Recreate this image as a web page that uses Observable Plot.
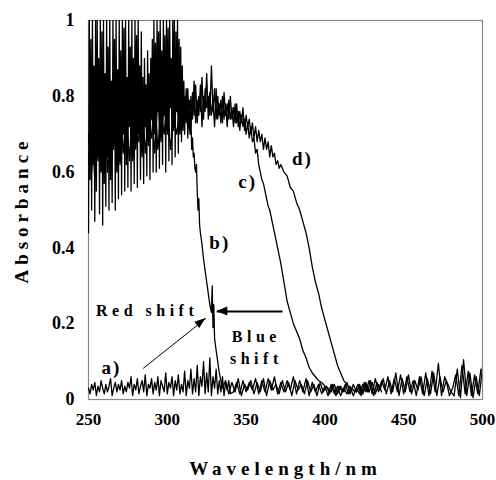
<!DOCTYPE html>
<html>
<head>
<meta charset="utf-8">
<script src="https://cdn.jsdelivr.net/npm/d3@7"></script>
<script src="https://cdn.jsdelivr.net/npm/@observablehq/plot@0.6"></script>
<style>
  html, body { margin: 0; padding: 0; background: #fff; }
</style>
</head>
<body>
<div id="chart"></div>
<script>
// Tick values
const xTicks = [250, 300, 350, 400, 450, 500];
const yTicks = [0, 0.2, 0.4, 0.6, 0.8, 1];

// Series a) — blank baseline  [wavelength nm, absorbance]
const seriesA = [
[250,.03],[251,.015],[252,.04],[253,.025],[254,.045],[255,.01],[256,.035],[257,.02],[258,.05],[259,.03],
[260,.015],[261,.04],[262,.02],[263,.035],[264,.055],[265,.01],[266,.03],[267,.045],[268,.02],[269,.04],
[270,.025],[271,.05],[272,.015],[273,.035],[274,.02],[275,.045],[276,.03],[277,.06],[278,.01],[279,.04],
[280,.025],[281,.055],[282,.015],[283,.035],[284,.05],[285,.02],[286,.065],[287,.01],[288,.04],[289,.03],
[290,.055],[291,.015],[292,.045],[293,.025],[294,.06],[295,.01],[296,.05],[297,.035],[298,.02],[299,.07],
[300,.015],[301,.045],[302,.03],[303,.06],[304,.01],[305,.05],[306,.025],[307,.065],[308,.015],[309,.04],
[310,.02],[311,.075],[312,.01],[313,.05],[314,.03],[315,.08],[316,.015],[317,.055],[318,.02],[319,.09],
[320,.01],[321,.06],[322,.035],[323,.1],[324,.015],[325,.07],[326,.02],[327,.11],[328,.01],[329,.06],
[330,.03],[331,.08],[332,.015],[333,.05],[334,.02],[335,.06],[336,.01],[337,.045],[338,.025],[339,.05],
[340,.015],[342,.02],[344,.045],[346,.015],[348,.05],
[350,.02],[352,.045],[354,.025],[356,.055],[358,.015],[360,.05],[362,.02],[364,.055],[366,.025],[368,.06],
[370,.015],[372,.045],[374,.02],[376,.05],[378,.025],[380,.06],[382,.015],[384,.05],[386,.02],[388,.055],
[390,.01],[392,.045],[394,.02],[396,.04],[398,.015],[400,.035],[402,.01],[404,.04],[406,.015],[408,.035],
[410,.01],[412,.03],[414,.015],[416,.035],[418,.01],[420,.03],[422,.015],[424,.04],[426,.02],[428,.05],
[430,.015],[432,.055],[434,.02],[436,.05],[438,.025],[440,.06],[442,.015],[444,.055],[446,.02],[448,.065],
[450,.015],[452,.06],[454,.02],[456,.05],[458,.01],[460,.06],[462,.015],[464,.07],[466,.01],[468,.075],
[470,.02],[472,.095],[474,.01],[476,.06],[478,.04],[480,.02],[482,.01],[484,.08],[486,.005],[488,.105],
[490,.01],[492,.07],[494,.005],[496,.06],[498,.01],[500,.085]
];

// Series b)
const seriesB = [
[250,.44],[250.5,1],[251,.58],[251.5,.95],[252,.5],[252.5,1],[253,.62],[253.5,.88],[254,.47],[254.5,1],
[255,.55],[255.5,1],[256,.66],[256.5,.9],[257,.49],[257.5,1],[258,.6],[258.5,.97],[259,.46],[259.5,1],
[260,.57],[260.5,.86],[261,.51],[261.5,1],[262,.64],[262.5,.93],[263,.5],[263.5,1],[264,.58],[264.5,.84],
[265,.52],[265.5,1],[266,.68],[266.5,.95],[267,.5],[267.5,1],[268,.6],[268.5,.87],[269,.53],[269.5,1],
[270,.63],[270.5,.92],[271,.54],[271.5,1],[272,.7],[272.5,.98],[273,.55],[273.5,1],[274,.62],[274.5,.85],
[275,.56],[275.5,1],[276,.72],[276.5,.93],[277,.55],[277.5,1],[278,.64],[278.5,.9],[279,.57],[279.5,1],
[280,.68],[280.5,.96],[281,.56],[281.5,1],[282,.7],[282.5,.88],[283,.58],[283.5,.97],[284,.66],[284.5,.85],
[285,.57],[285.5,.9],[286,.72],[286.5,.83],[287,.59],[287.5,.92],[288,.68],[288.5,.86],[289,.58],[289.5,.9],
[290,.74],[290.5,.95],[291,.6],[291.5,1],[292,.7],[292.5,.94],[293,.6],[293.5,1],[294,.76],[294.5,.97],
[295,.61],[295.5,1],[296,.7],[296.5,.92],[297,.62],[297.5,1],[298,.75],[298.5,.96],[299,.6],[299.5,1],
[300,.72],[300.5,.98],[301,.63],[301.5,1],[302,.77],[302.5,.9],[303,.62],[303.5,1],[304,.74],[304.5,1],
[305,.64],[305.5,.97],[306,.76],[306.5,1],[307,.65],[307.5,.95],[308,.72],[308.5,.93],[309,.68],[309.5,.88],
[310,.73],[310.5,.84],[311,.7],[311.5,.8],[312,.74],[312.5,.78],[313,.69],[313.5,.76],[314,.72],[314.5,.7],
[315,.74],[315.5,.66],[316,.69],[316.5,.64],[317,.65],[317.5,.61],[318,.6],[318.5,.62],
[319,.55],[319.5,.5],[320,.53],[320.5,.46],[321,.44],[322,.41],[323,.37],[324,.34],[325,.31],[326,.28],
[327,.25],[328,.23],[328.5,.3],[329,.19],[329.5,.25],[330,.16],[331,.13],[332,.1],[333,.07],[334,.05],
[335,.03],[337,.05],[339,.015],[341,.045],[343,.02],[345,.055],[347,.01],[349,.04],[351,.025],[353,.05],
[355,.015],[357,.045],[359,.02],[361,.055],[363,.01],[365,.05],[367,.025],[369,.04],[371,.015],[373,.05],
[375,.02],[377,.045],[379,.01],[381,.05],[383,.025],[385,.04],[387,.015],[389,.05],[391,.02],[393,.04],
[395,.01],[397,.045],[399,.02],[401,.035],[403,.015],[405,.04],[407,.01],[409,.035],[411,.02],[413,.04],
[415,.015],[417,.03],[419,.02],[421,.04],[423,.01],[425,.045],[427,.02],[429,.05],[431,.01],[433,.045],
[435,.025],[437,.055],[439,.015],[441,.05],[443,.02],[445,.07],[447,.01],[449,.055],[451,.02],[453,.065],
[455,.015],[457,.05],[459,.025],[461,.06],[463,.01],[465,.055],[467,.015],[469,.07],[471,.01],[473,.06],
[475,.02],[477,.05],[479,.01],[481,.03],[483,.065],[485,.01],[487,.09],[489,.015],[491,.075],[493,.01],
[495,.065],[497,.015],[499,.08]
];

// Series c)
const seriesC = [
[250,.62],[252,.75],[254,.58],[256,.7],[258,.64],[260,.78],[262,.6],[264,.72],[266,.66],[268,.8],
[270,.62],[272,.74],[274,.67],[276,.79],[278,.63],[280,.72],[282,.68],[284,.8],[286,.65],[288,.75],
[290,.69],[292,.81],[294,.66],[296,.76],[298,.7],[300,.8],[302,.66],[304,.74],[306,.7],[308,.78],
[310,.71],[311,.79],[312,.73],[313,.82],[314,.72],[315,.8],[316,.74],[317,.84],[318,.73],[319,.79],
[320,.75],[321,.83],[322,.72],[323,.8],[324,.76],[325,.86],[326,.74],[327,.81],[328,.75],[329,.79],
[330,.72],[331,.82],[332,.74],[333,.78],[334,.73],[335,.8],[336,.74],[337,.78],[338,.72],[339,.79],
[340,.74],[341,.77],[342,.72],[343,.78],[344,.73],[345,.76],[346,.71],[347,.75],[348,.72],[349,.74],
[350,.7],[351,.73],[352,.69],[353,.72],[354,.68],[355,.69],[356,.65],[357,.66],[358,.62],[359,.6],
[360,.58],[361,.57],[362,.55],[363,.53],[364,.51],[365,.5],[366,.48],[367,.46],[368,.44],[370,.4],
[372,.36],[374,.31],[376,.26],[378,.23],[380,.2],[382,.18],[384,.16],[386,.13],[388,.11],
[390,.085],[392,.07],[394,.06],[396,.05],[398,.045],[400,.035],[402,.03],[404,.02],[406,.04],[408,.015],
[410,.035],[412,.02],[414,.045],[416,.015],[418,.04],[420,.02],[422,.035],[424,.015],[426,.045],[428,.02]
];

// Series d)
const seriesD = [
[250,.7],[252,.6],[254,.76],[256,.63],[258,.73],[260,.6],[262,.77],[264,.64],[266,.74],[268,.62],
[270,.78],[272,.65],[274,.75],[276,.63],[278,.79],[280,.66],[282,.76],[284,.64],[286,.8],[288,.67],
[290,.77],[292,.65],[294,.8],[296,.68],[298,.78],[300,.7],[302,.82],[304,.71],[306,.79],[308,.7],
[310,.8],[311,.73],[312,.82],[313,.74],[314,.79],[315,.72],[316,.81],[317,.75],[318,.83],[319,.73],
[320,.8],[321,.76],[322,.85],[323,.74],[324,.82],[325,.77],[326,.8],[327,.75],[328,.88],[329,.76],
[330,.82],[331,.74],[332,.8],[333,.75],[334,.79],[335,.73],[336,.81],[337,.75],[338,.78],[339,.74],
[340,.8],[341,.74],[342,.77],[343,.73],[344,.78],[345,.72],[346,.76],[347,.73],[348,.77],[349,.71],
[350,.75],[351,.72],[352,.74],[353,.7],[354,.73],[355,.69],[356,.72],[357,.68],[358,.71],[359,.68],
[360,.7],[361,.66],[362,.69],[363,.66],[364,.68],[365,.64],[366,.67],[367,.64],[368,.65],[369,.62],
[370,.63],[371,.61],[372,.62],[374,.6],[376,.59],[378,.56],[380,.55],[382,.52],[384,.5],[386,.47],[388,.44],
[390,.4],[392,.35],[394,.31],[396,.28],[398,.24],[400,.21],[402,.18],[404,.15],[406,.12],[408,.09],
[410,.07],[412,.05],[414,.04],[416,.03],[418,.025],[420,.02],[422,.04],[424,.015],[426,.035],[428,.02],
[430,.045],[432,.015],[434,.04],[436,.02]
];

// Annotation texts (positions in data units)
const labels = [
  {text: "a)", x: 264.5, y: 0.084, size: 19},
  {text: "b)", x: 333.3, y: 0.412, size: 19},
  {text: "c)", x: 351, y: 0.575, size: 19},
  {text: "d)", x: 385.7, y: 0.636, size: 19},
  {text: "Red shift", x: 287.2, y: 0.235, size: 16},
  {text: "Blue", x: 356.5, y: 0.166, size: 16},
  {text: "shift", x: 356.5, y: 0.108, size: 16}
];
// Arrows (data units)
const arrows = [
  {x1: 284.7, y1: 0.082, x2: 324.5, y2: 0.214, w: 1},
  {x1: 373.1, y1: 0.232, x2: 331.4, y2: 0.232, w: 2}
];

const rows = [
  ...seriesA.map(([x, y]) => ({x, y, s: "a"})),
  ...seriesB.map(([x, y]) => ({x, y, s: "b"})),
  ...seriesC.map(([x, y]) => ({x, y, s: "c"})),
  ...seriesD.map(([x, y]) => ({x, y, s: "d"}))
];

const font = "Liberation Serif, DejaVu Serif, serif";

// filled arrowheads, placed through the plot's scales
function arrowHeads(index, scales) {
  const ns = "http://www.w3.org/2000/svg";
  const g = document.createElementNS(ns, "g");
  for (const a of arrows) {
    const X1 = scales.x(a.x1), Y1 = scales.y(a.y1), X2 = scales.x(a.x2), Y2 = scales.y(a.y2);
    const len = Math.hypot(X2 - X1, Y2 - Y1);
    const ux = (X2 - X1) / len, uy = (Y2 - Y1) / len;
    const L = 11, W = a.w > 1 ? 4.5 : 4;
    const bx = X2 - ux * L, by = Y2 - uy * L;
    const p = document.createElementNS(ns, "path");
    p.setAttribute("d", `M${X2},${Y2}L${bx - uy * W},${by + ux * W}L${bx + uy * W},${by - ux * W}Z`);
    p.setAttribute("fill", "black");
    g.appendChild(p);
  }
  return g;
}

const chart = Plot.plot({
  width: 496,
  height: 480,
  marginLeft: 88,
  marginRight: 14,
  marginTop: 20,
  marginBottom: 81,
  style: {fontFamily: font, fontWeight: "bold", fontSize: "18px", color: "black", background: "white", overflow: "visible"},
  x: {domain: [250, 500]},
  y: {domain: [0, 1]},
  marks: [
    Plot.frame({stroke: "#888", strokeWidth: 1.2}),
    Plot.line(rows, {x: "x", y: "y", z: "s", stroke: "black", strokeWidth: 1.3, clip: true}),
    Plot.axisX({ticks: xTicks, tickSize: 0, tickPadding: 13, tickFormat: d => String(d), label: null, fontSize: 17}),
    Plot.axisY({ticks: yTicks, tickSize: 0, tickPadding: 14, tickFormat: d => String(+d.toFixed(1)), label: null, fontSize: 18}),
    Plot.text(["Wavelength/nm"], {frameAnchor: "bottom", dy: 69, lineAnchor: "middle", textAnchor: "middle", fontSize: 19, fontWeight: "bold"}),
    Plot.text(["Absorbance"], {frameAnchor: "left", dx: -67, rotate: -90, lineAnchor: "middle", textAnchor: "middle", fontSize: 19, fontWeight: "bold"}),
    Plot.text(labels, {x: "x", y: "y", text: "text", fontSize: d => d.size, fontWeight: "bold", lineAnchor: "middle"}),
    Plot.link(arrows, {x1: "x1", y1: "y1", x2: "x2", y2: "y2", stroke: "black", strokeWidth: "w"}),
    arrowHeads
  ]
});

// font + letter spacing for the spaced-out texts
d3.select(chart).selectAll("text").each(function() {
  this.setAttribute("font-family", font);
  const t = this.textContent;
  if (t === "Wavelength/nm" || t === "Absorbance") this.setAttribute("letter-spacing", "5px");
  else if (t === "Red shift" || t === "Blue" || t === "shift") this.setAttribute("letter-spacing", "4.5px");
  else if (/^[a-d]\)$/.test(t)) this.setAttribute("letter-spacing", "2px");
});

document.getElementById("chart").appendChild(chart);
</script>
</body>
</html>
